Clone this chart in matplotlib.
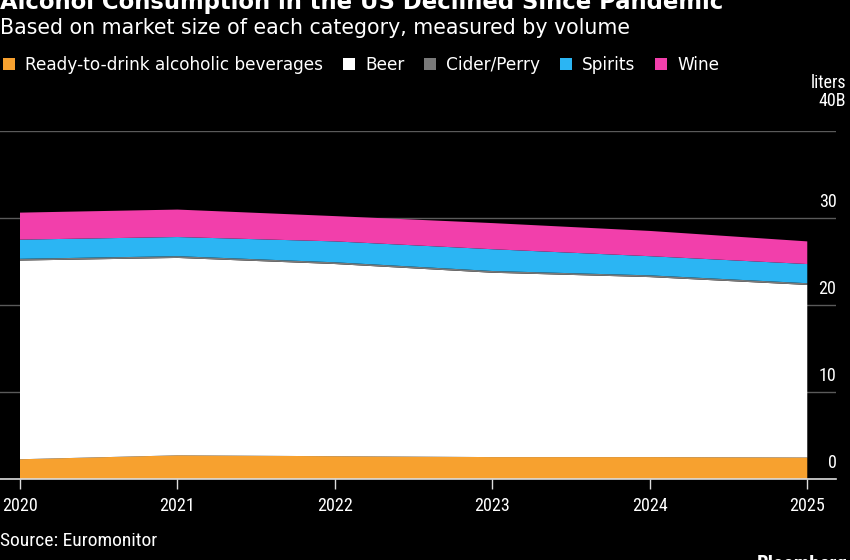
import matplotlib
matplotlib.use("Agg")
import matplotlib.pyplot as plt
from matplotlib.patches import Patch
from matplotlib.transforms import ScaledTranslation
import matplotlib.font_manager as fm

names = {f.name for f in fm.fontManager.ttflist}
COND = "Roboto Condensed" if "Roboto Condensed" in names else "DejaVu Sans"
WIDE = "DejaVu Sans"
plt.rcParams['font.family'] = [WIDE]

years = [2020, 2021, 2022, 2023, 2024, 2025]
rtd = [2.3, 2.75, 2.65, 2.55, 2.55, 2.5]
beer = [22.8, 22.65, 22.05, 21.15, 20.65, 19.8]
cider = [0.2, 0.2, 0.2, 0.2, 0.2, 0.2]
spirits = [2.2, 2.2, 2.4, 2.5, 2.2, 2.2]
wine = [3.1, 3.15, 2.9, 3.0, 2.9, 2.6]

series_names = ["Ready-to-drink alcoholic beverages", "Beer", "Cider/Perry", "Spirits", "Wine"]
colors = ["#f7a12f", "#ffffff", "#7a7a7a", "#2bb5f3", "#f23fab"]
yticks = [0, 10, 20, 30, 40]
ytick_labels = ["0", "10", "20", "30", "liters\n40B"]

BG = "#000000"
fig = plt.figure(figsize=(8.5, 5.6), dpi=100, facecolor=BG)
ax = fig.add_axes([0.0, 0.1441, 0.984, 0.6225], facecolor=BG)

ax.stackplot(years, rtd, beer, cider, spirits, wine, colors=colors, linewidth=0, zorder=2)

ax.set_xlim(2019.873, 2025.185)
ax.set_ylim(0, 40)

for s in ["top", "left", "right"]:
    ax.spines[s].set_visible(False)
ax.spines["bottom"].set_color("#dddddd")
ax.spines["bottom"].set_linewidth(1.2)
ax.spines["bottom"].set_zorder(3)

ax.set_xticks(years)
ax.set_xticklabels([str(y) for y in years])
ax.tick_params(axis="x", colors="#dddddd", labelcolor="white", length=7.5, width=1, labelsize=13, pad=5)
for lab in ax.get_xticklabels():
    lab.set_fontfamily(COND)

ax.yaxis.tick_right()
ax.set_yticks(yticks)
ax.set_yticklabels(ytick_labels)
ax.tick_params(axis="y", length=0, pad=0, labelsize=13, labelcolor="white")
ax.grid(axis="y", color="#5a5a5a", linewidth=1, zorder=0)
ax.set_axisbelow(True)

for lab, t in zip(ax.get_yticklabels(), yticks):
    lab.set_fontfamily(COND)
    lab.set_horizontalalignment("right")
    lab.set_verticalalignment("bottom")
    lab.set_multialignment("right")
    lab.set_linespacing(1.0)
    dx, dy = (10, 21) if t == 40 else (0, 7)
    lab.set_transform(lab.get_transform() + ScaledTranslation(dx / 100, dy / 100, fig.dpi_scale_trans))

fig.text(0.0, 1 - 9 / 560, "Alcohol Consumption in the US Declined Since Pandemic",
         color="white", fontsize=16.4, fontweight="bold", ha="left", va="baseline")
fig.text(0.0, 1 - 34 / 560, "Based on market size of each category, measured by volume",
         color="white", fontsize=14.8, ha="left", va="baseline")

handles = [Patch(facecolor=c, edgecolor="none") for c in colors]
leg = fig.legend(handles, series_names, loc="center left", bbox_to_anchor=(3 / 850, 1 - 65 / 560),
                 ncol=5, frameon=False, fontsize=12.2, labelcolor="white",
                 handlelength=0.72, handleheight=0.72, handletextpad=0.6,
                 columnspacing=1.15, borderaxespad=0, borderpad=0)

fig.text(0.0, 1 - 546 / 560, "Source: Euromonitor", color="white", fontsize=14,
         ha="left", va="baseline", family=COND)
fig.text(757 / 850, 1 - 570 / 560, "Bloomberg", color="white", fontsize=15,
         fontweight="bold", ha="left", va="baseline", family=COND)

fig.savefig("out.png", dpi=100, facecolor=BG)
